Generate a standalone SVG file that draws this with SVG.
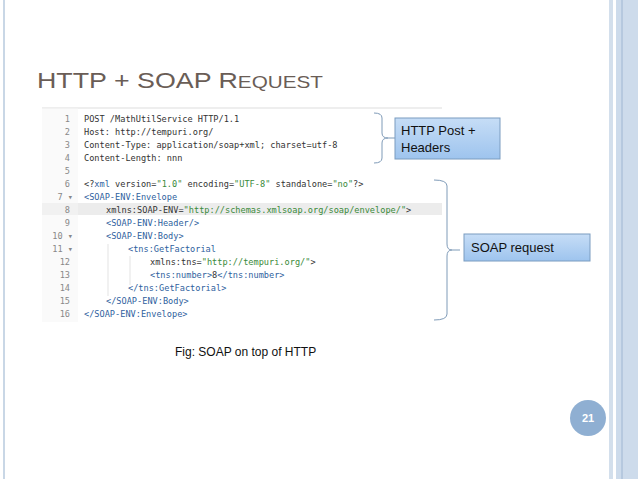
<svg xmlns="http://www.w3.org/2000/svg" width="638" height="479" viewBox="0 0 638 479">
<defs>
<linearGradient id="bx" x1="0" y1="0" x2="0" y2="1"><stop offset="0" stop-color="#c6ddf6"/><stop offset="1" stop-color="#9ec4ee"/></linearGradient>
</defs>
<style>
.c{font-family:"DejaVu Sans Mono","Liberation Mono",monospace;font-size:8.6px;fill:#333}
.n{font-family:"DejaVu Sans Mono","Liberation Mono",monospace;font-size:8.6px;fill:#888;text-anchor:end}
.t{fill:#2f5f9e}.v{fill:#3a8a3a}
.br{fill:none;stroke:#7f9bb8;stroke-width:1}
.lb{font-family:"Liberation Sans",Arial,sans-serif;font-size:13px;fill:#111}
</style>
<rect width="638" height="479" fill="#fff"/>
<line x1="4" y1="0" x2="4" y2="479" stroke="#c9d7e6" stroke-width="2"/>
<rect x="609" y="0" width="4" height="479" fill="#d3dfec"/>
<rect x="616" y="0" width="22" height="479" fill="#cddbeb"/>
<line x1="622" y1="0" x2="622" y2="479" stroke="#9fb6d2" stroke-width="1"/>
<text x="37" y="88" font-family="Liberation Sans,Arial,sans-serif" font-size="22" fill="#6a5d56" textLength="286" lengthAdjust="spacingAndGlyphs">HTTP + SOAP R<tspan font-size="17">EQUEST</tspan></text>
<g id="code">
<rect x="42" y="108" width="400" height="214" fill="#fff"/>
<line x1="42" y1="108" x2="442" y2="108" stroke="#ddd"/>
<rect x="42" y="203" width="400" height="12" fill="#ececec"/>
<rect x="42" y="108" width="36" height="214" fill="#f6f6f6" opacity="0.5"/>
<g class="n">
<text x="70" y="122">1</text><text x="70" y="135">2</text><text x="70" y="148">3</text><text x="70" y="161">4</text><text x="70" y="174">5</text><text x="70" y="187">6</text><text x="73" y="200">7 ▾</text><text x="70" y="213">8</text><text x="70" y="226">9</text><text x="73" y="239">10 ▾</text><text x="73" y="252">11 ▾</text><text x="70" y="265">12</text><text x="70" y="278">13</text><text x="70" y="291">14</text><text x="70" y="304">15</text><text x="70" y="317">16</text>
</g>
<g class="c">
<text x="84" y="122">POST /MathUtilService HTTP/1.1</text>
<text x="84" y="135">Host: http://tempuri.org/</text>
<text x="84" y="148">Content-Type: application/soap+xml; charset=utf-8</text>
<text x="84" y="161">Content-Length: nnn</text>
<text x="84" y="187">&lt;?<tspan class="t">xml</tspan> version=<tspan class="v">"1.0"</tspan> encoding=<tspan class="v">"UTF-8"</tspan> standalone=<tspan class="v">"no"</tspan>?&gt;</text>
<text x="84" y="200" class="t">&lt;SOAP-ENV:Envelope</text>
<text x="106" y="213">xmlns:SOAP-ENV=<tspan class="v">"http://schemas.xmlsoap.org/soap/envelope/"</tspan>&gt;</text>
<text x="106" y="226" class="t">&lt;SOAP-ENV:Header/&gt;</text>
<text x="106" y="239" class="t">&lt;SOAP-ENV:Body&gt;</text>
<text x="128" y="252" class="t">&lt;tns:GetFactorial</text>
<text x="150" y="265">xmlns:tns=<tspan class="v">"http://tempuri.org/"</tspan>&gt;</text>
<text x="150" y="278" class="t">&lt;tns:number&gt;<tspan fill="#333">8</tspan>&lt;/tns:number&gt;</text>
<text x="128" y="291" class="t">&lt;/tns:GetFactorial&gt;</text>
<text x="106" y="304" class="t">&lt;/SOAP-ENV:Body&gt;</text>
<text x="84" y="317" class="t">&lt;/SOAP-ENV:Envelope&gt;</text>
</g>
<line x1="108" y1="244" x2="108" y2="296" stroke="#e3e3e3"/>
<line x1="130" y1="256" x2="130" y2="285" stroke="#e3e3e3"/>
</g>
<g id="connectors">
<path class="br" d="M374,113 Q382,113 382,118 L382,133 Q382,138 388,138 L396,138 M388,138 Q382,138 382,143 L382,158 Q382,163 374,163"/>
<path class="br" d="M434,180 Q447,180 447,186 L447,244 Q447,250 452,250 L460,250 M452,250 Q447,250 447,256 L447,314 Q447,320 434,320"/>
</g>
<g id="box1">
<rect x="395" y="118" width="105" height="41" fill="url(#bx)" stroke="#7a9cc0" stroke-width="1"/>
<text class="lb" x="401" y="135">HTTP Post +</text>
<text class="lb" x="401" y="152">Headers</text>
</g>
<g id="box2">
<rect x="464" y="234" width="126" height="27" fill="url(#bx)" stroke="#7a9cc0" stroke-width="1"/>
<text class="lb" x="471" y="252">SOAP request</text>
</g>
<text x="175" y="356" font-family="Liberation Sans,Arial,sans-serif" font-size="12" fill="#111">Fig: SOAP on top of HTTP</text>
<g id="page">
<circle cx="588" cy="418" r="18" fill="#8fafd2"/>
<text x="588" y="422" text-anchor="middle" font-family="Liberation Sans,Arial,sans-serif" font-size="11" font-weight="bold" fill="#fff">21</text>
</g>
</svg>
